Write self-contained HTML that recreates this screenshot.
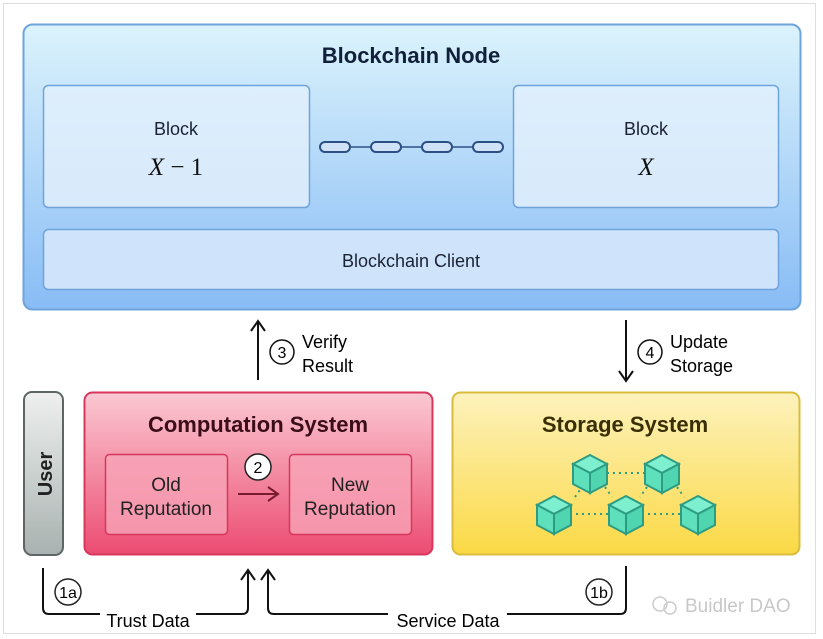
<!DOCTYPE html>
<html><head><style>
html,body{margin:0;padding:0;background:#fff}
svg{display:block}
text{font-family:"Liberation Sans",sans-serif}
.serif{font-family:"Liberation Serif",serif}
</style></head><body>
<svg width="823" height="639" viewBox="0 0 823 639" xmlns="http://www.w3.org/2000/svg">
<defs>
<linearGradient id="gb" x1="0" y1="0" x2="0" y2="1"><stop offset="0" stop-color="#dcf3fc"/><stop offset="1" stop-color="#88bcf5"/></linearGradient>
<linearGradient id="gr" x1="0" y1="0" x2="0" y2="1"><stop offset="0" stop-color="#fbc9d3"/><stop offset="1" stop-color="#ec4c72"/></linearGradient>
<linearGradient id="gy" x1="0" y1="0" x2="0" y2="1"><stop offset="0" stop-color="#fdf2bd"/><stop offset="1" stop-color="#fbd945"/></linearGradient>
<linearGradient id="gu" x1="0" y1="0" x2="0" y2="1"><stop offset="0" stop-color="#eef0ef"/><stop offset="1" stop-color="#a9b2b0"/></linearGradient>
<g id="cube">
<polygon points="0,-10 17,-1 0,8 -17,-1" fill="#7ff0cf" stroke="#2e9c82" stroke-width="2"/>
<polygon points="-17,-1 0,8 0,28 -17,19" fill="#5fe0bd" stroke="#2e9c82" stroke-width="2"/>
<polygon points="17,-1 0,8 0,28 17,19" fill="#4fd6b1" stroke="#2e9c82" stroke-width="2"/>
</g>
</defs>
<rect x="3.5" y="3.5" width="812" height="630" fill="#fff" stroke="#ddd" stroke-width="1"/>
<rect x="23.5" y="24.5" width="777" height="285" rx="9" fill="url(#gb)" stroke="#6ea3dc" stroke-width="2"/>
<text x="411" y="63" text-anchor="middle" font-size="22" font-weight="bold" fill="#10203a">Blockchain Node</text>
<rect x="43.5" y="85.5" width="266" height="122" rx="5" fill="#e0eefb" fill-opacity="0.85" stroke="#6ea3dc" stroke-width="1.5"/>
<text x="176" y="135" text-anchor="middle" font-size="18" fill="#1a2233">Block</text>
<text x="176" y="175" text-anchor="middle" font-size="25" class="serif" fill="#111"><tspan font-style="italic">X</tspan> − 1</text>
<rect x="513.5" y="85.5" width="265" height="122" rx="5" fill="#e0eefb" fill-opacity="0.85" stroke="#6ea3dc" stroke-width="1.5"/>
<text x="646" y="135" text-anchor="middle" font-size="18" fill="#1a2233">Block</text>
<text x="646" y="175" text-anchor="middle" font-size="25" font-style="italic" class="serif" fill="#111">X</text>
<line x1="350" y1="147" x2="472" y2="147" stroke="#2c4f86" stroke-width="1.5"/>
<g fill="#cfe2f7" stroke="#2c4f86" stroke-width="2">
<rect x="320" y="142" width="30" height="10" rx="5"/><rect x="371" y="142" width="30" height="10" rx="5"/>
<rect x="422" y="142" width="30" height="10" rx="5"/><rect x="473" y="142" width="30" height="10" rx="5"/>
</g>
<rect x="43.5" y="229.5" width="735" height="60" rx="5" fill="#cfe4fa" stroke="#6ea3dc" stroke-width="1.5"/>
<text x="411" y="267" text-anchor="middle" font-size="18" fill="#1a2233">Blockchain Client</text>
<g fill="none" stroke="#111" stroke-width="2">
<line x1="258" y1="380" x2="258" y2="322"/><path d="M251,331 L258,321 L265,331"/>
<line x1="626" y1="320" x2="626" y2="380"/><path d="M619,371 L626,381 L633,371"/>
</g>
<circle cx="282" cy="352" r="12" fill="#fff" stroke="#111" stroke-width="1.5"/><text x="282" y="358" text-anchor="middle" font-size="16">3</text>
<text x="302" y="348" font-size="18">Verify</text><text x="302" y="372" font-size="18">Result</text>
<circle cx="650" cy="352" r="12" fill="#fff" stroke="#111" stroke-width="1.5"/><text x="650" y="358" text-anchor="middle" font-size="16">4</text>
<text x="670" y="348" font-size="18">Update</text><text x="670" y="372" font-size="18">Storage</text>
<rect x="24" y="392" width="39" height="163" rx="8" fill="url(#gu)" stroke="#5d6665" stroke-width="2"/>
<text transform="translate(52,474) rotate(-90)" text-anchor="middle" font-size="20" font-weight="bold" fill="#222">User</text>
<rect x="84.5" y="392.5" width="348" height="162" rx="8" fill="url(#gr)" stroke="#d8375d" stroke-width="2"/>
<text x="258" y="432" text-anchor="middle" font-size="22" font-weight="bold" fill="#3a0d18">Computation System</text>
<rect x="105.5" y="454.5" width="122" height="80" rx="4" fill="#f7a4b8" fill-opacity="0.8" stroke="#d8375d" stroke-width="1.5"/>
<text x="166" y="491" text-anchor="middle" font-size="19" fill="#222">Old</text><text x="166" y="515" text-anchor="middle" font-size="19" fill="#222">Reputation</text>
<rect x="289.5" y="454.5" width="122" height="80" rx="4" fill="#f7a4b8" fill-opacity="0.8" stroke="#d8375d" stroke-width="1.5"/>
<text x="350" y="491" text-anchor="middle" font-size="19" fill="#222">New</text><text x="350" y="515" text-anchor="middle" font-size="19" fill="#222">Reputation</text>
<line x1="238" y1="494" x2="277" y2="494" stroke="#7a1a2e" stroke-width="2"/>
<path d="M268,487 L278,494 L268,501" fill="none" stroke="#7a1a2e" stroke-width="2"/>
<circle cx="258" cy="467" r="13" fill="#fff" stroke="#222" stroke-width="1.5"/><text x="258" y="473" text-anchor="middle" font-size="16">2</text>
<rect x="452.5" y="392.5" width="347" height="162" rx="8" fill="url(#gy)" stroke="#d9bc3d" stroke-width="2"/>
<text x="625" y="432" text-anchor="middle" font-size="22" font-weight="bold" fill="#3a2e05">Storage System</text>
<g stroke="#2e9c82" stroke-width="2" stroke-dasharray="2,4">
<line x1="607" y1="473" x2="645" y2="473"/><line x1="570" y1="514" x2="610" y2="514"/><line x1="642" y1="514" x2="680" y2="514"/>
<line x1="575" y1="497" x2="582" y2="487"/><line x1="605" y1="487" x2="612" y2="497"/><line x1="647" y1="487" x2="640" y2="497"/><line x1="677" y1="487" x2="684" y2="497"/>
</g>
<use href="#cube" x="590" y="465"/><use href="#cube" x="662" y="465"/>
<use href="#cube" x="554" y="506"/><use href="#cube" x="626" y="506"/><use href="#cube" x="698" y="506"/>
<g fill="none" stroke="#111" stroke-width="2">
<path d="M43,568 L43,608 Q43,614 49,614 L100,614"/>
<path d="M196,614 L242,614 Q248,614 248,608 L248,570"/><path d="M241,580 L248,570 L255,580"/>
<path d="M388,614 L274,614 Q268,614 268,608 L268,570"/><path d="M261,580 L268,570 L275,580"/>
<path d="M507,614 L620,614 Q626,614 626,608 L626,566"/>
</g>
<text x="148" y="627" text-anchor="middle" font-size="18">Trust Data</text>
<text x="448" y="627" text-anchor="middle" font-size="18">Service Data</text>
<circle cx="68" cy="592" r="13" fill="#fff" stroke="#222" stroke-width="1.5"/><text x="68" y="598" text-anchor="middle" font-size="16">1a</text>
<circle cx="599" cy="592" r="13" fill="#fff" stroke="#222" stroke-width="1.5"/><text x="599" y="598" text-anchor="middle" font-size="16">1b</text>
<text x="685" y="612" font-size="19" fill="#c8c8c8">Buidler DAO</text>
<circle cx="660" cy="604" r="7" fill="none" stroke="#ccc" stroke-width="1.5"/><circle cx="670" cy="608" r="6" fill="none" stroke="#ccc" stroke-width="1.5"/>
</svg>
</body></html>
